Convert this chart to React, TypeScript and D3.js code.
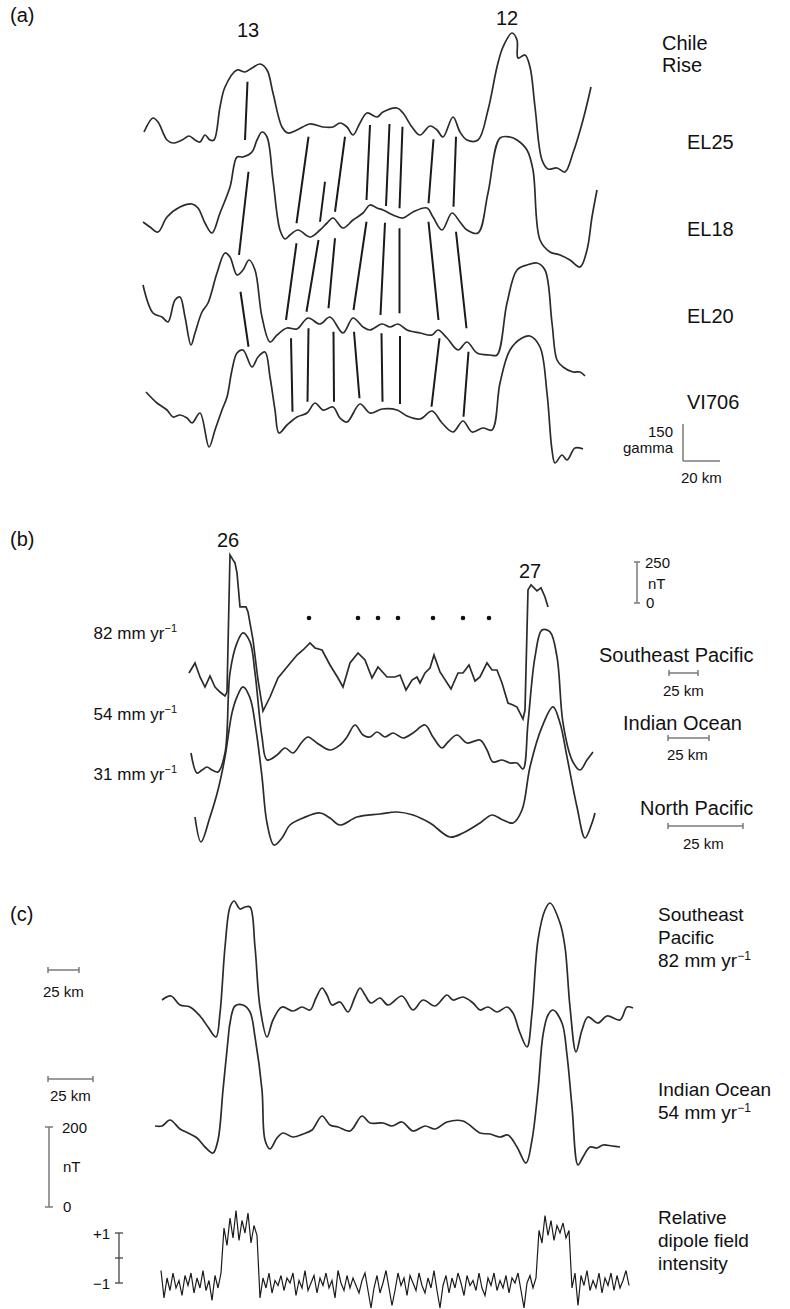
import React from 'react';
import * as d3 from 'd3';

type Pt = [number, number];

// distance along profile (normalised, 0-100) vs anomaly
// (a) Chile Rise, anomaly in gamma
const el25: Pt[] = [
  [0.8, -8], [2.6, 48], [3.6, 32], [5.4, -40], [6.6, -52], [8.4, -40], [9.8, -24], [11, -40], [12, -48], [13, -20],
  [14, -40], [14.8, -40], [16, 92], [17, 172], [19.4, 240], [21, 232], [22.4, 248], [24, 264], [25.4, 240], [26.6, 148],
  [28.4, 12], [29.6, -12], [31.4, 0], [34, 24], [36.6, 12], [38.6, 12], [40, 28], [41.4, 12], [42.6, -20], [44, 28],
  [45.4, 68], [47.4, 52], [48.6, 72], [51.4, 88], [52.6, 68], [54.4, 12], [56, -20], [58, 16], [59.4, 0], [60.6, -28],
  [62.6, 52], [64, -8], [65.4, -40], [67.6, -40], [69.6, 80], [71.4, 252], [72.6, 332], [74.4, 388], [75.4, 360], [75.6, 288],
  [77, 300], [78, 252], [79, 92], [80.4, -120], [81.6, -156], [83.4, -152], [85, -168], [86.6, -92], [88.6, 40], [90.2, 172],
];
const el18: Pt[] = [
  [0.6, 12], [2, -8], [3.6, -28], [5.4, 32], [8, 72], [10.4, 84], [11.6, 68], [13, 8], [14.4, -32], [16, 48],
  [18, 152], [19.4, 272], [20.6, 272], [22.4, 292], [23.4, 340], [24.4, 372], [25.4, 352], [26.6, 180], [28, -20], [29, -56],
  [30, -40], [31.6, -20], [34, -48], [36, -20], [37.4, 8], [38.6, 28], [40.6, -12], [42.6, 20], [44.6, 48], [46, 80],
  [47.4, 68], [48.6, 60], [50.6, 40], [52.6, 28], [54.6, 52], [57.4, 68], [58.6, 32], [60.4, -20], [62.4, 48], [64, 12],
  [65.4, -20], [67.6, -32], [69.6, 128], [72, 348], [74, 352], [75.4, 340], [77.4, 300], [78.6, 220], [80, -60], [82, -108],
  [84, -120], [86, -140], [88, -168], [89.4, -100], [90.4, 32], [91.4, 140],
];
const el20: Pt[] = [
  [0.6, 180], [2.6, 68], [4.4, 52], [5.6, 32], [7, 120], [8, 132], [9, 52], [10.2, -60], [11, -12], [12.4, 72],
  [13.6, 108], [15.4, 228], [17, 308], [18, 292], [19.4, 220], [20.6, 240], [21.8, 280], [23, 240], [24.4, 52], [26, -48],
  [27.4, -20], [29.4, 8], [31.4, 4], [33.6, 48], [36, 24], [38, 52], [40.6, -12], [42.6, 48], [44.6, 12], [46, 0],
  [48.4, 24], [50, 12], [51.6, 24], [53.4, 0], [56, -12], [58.4, -20], [59.6, 0], [61.4, -32], [63.6, -80], [65.4, -48],
  [67.4, -92], [70, -100], [71.4, -100], [73.4, 108], [75.4, 240], [77.4, 260], [79.4, 268], [81, 240], [82.4, 28], [83.4, -120],
  [84.6, -148], [86.6, -168], [88, -168], [89, -184],
];
const vi706: Pt[] = [
  [1.2, 92], [3.4, 48], [5.4, 20], [6.6, -8], [8, 0], [9.4, -12], [10.4, -32], [12, 8], [13.8, -128], [15, -60],
  [16.4, 20], [17.4, 72], [18.4, 180], [19.4, 248], [20.6, 260], [22.4, 192], [23.6, 232], [25, 252], [26, 152], [27, 20],
  [27.8, -72], [29.4, -40], [31.4, -8], [33.4, 8], [35, 48], [36.6, 20], [38.6, 32], [40, -12], [41.4, -28], [44, 44],
  [46, 8], [48.4, 24], [51.4, 20], [53.4, -4], [56, -16], [58.4, 16], [60.4, -32], [62.6, -68], [64.6, -24], [66.4, -68],
  [68.6, -52], [70.4, -60], [72, 128], [74, 260], [76.4, 308], [78, 316], [80, 272], [81.4, 88], [82.4, -140], [83, -192],
  [84.4, -160], [85.4, -180], [87, -132], [88.6, -136],
];

// correlation lines: [distance upper, anomaly upper, distance lower, anomaly lower]
const ties12 = [
  [21.5, 193, 21, 340], [33.7, -27, 31.3, 7], [37, -207, 36, 13], [41, -27, 39, 53], [46, 20, 45.3, 100],
  [49.9, 24, 49.2, 76], [52.5, 13, 51.9, 67], [58.7, -37, 57.7, 87], [63.2, -27, 62.7, 73],
];
const ties23 = [
  [21.7, 213, 19.8, 300], [31.3, -73, 29.2, 40], [35.7, -60, 33.3, 73], [39, -53, 37.7, 87], [45.3, 13, 42.7, 80],
  [49, 9, 48.1, 60], [51.9, -13, 51.9, 67], [57.7, 13, 59.7, 40], [63.2, -27, 65.3, 7],
];
const ties34 = [
  [20.1, 153, 21.7, 273], [30.2, -33, 30.5, 13], [33.7, 7, 33.5, 53], [38.7, -7, 38.8, 53], [42.8, -7, 43.9, 67],
  [48.3, -13, 48.5, 53], [52, -24, 52, 44], [59.9, -33, 58.3, 33], [65.7, -87, 64.7, -7],
];

// (b) anomalies 26-27, nT
const sePacificB: Pt[] = [
  [9.8, 42], [11, 102], [12, 18], [13, -42], [14, 24], [15, -42], [16, -72], [17, -96], [17.4, -72], [18, 750],
  [18.6, 720], [19, 702], [19.4, 642], [20, 438], [21.2, 438], [21.6, 408], [22.6, 240], [23.6, 0], [24.6, -186], [26, -102],
  [27.6, 12], [29.4, 78], [31.4, 150], [32.6, 180], [34, 222], [35, 192], [36.4, 180], [38, 90], [39.6, 12], [40.6, -42],
  [42, 102], [43.6, 162], [45, 120], [46.4, 12], [47.6, 78], [49.4, 18], [51, 18], [52, 30], [53.2, -60], [54.4, 0],
  [55.4, 18], [56, -18], [57, 42], [58, 72], [58.8, 150], [60, 48], [62.2, -54], [63.6, 42], [64.6, 42], [65.8, 90],
  [67, -6], [68, 18], [69.4, 102], [70.4, 60], [71.4, 60], [72.4, -18], [73.6, -138], [74.6, -150], [75.4, -162], [76.6, -234],
  [77, -180], [77.6, 540], [78.2, 570], [79.4, 534], [80.2, 552], [81, 498], [81.6, 438],
];
const indianB: Pt[] = [
  [10.2, -18], [11.4, -138], [12.4, -120], [13.4, -102], [14.4, -120], [15.6, -132], [17, -18], [18, 462], [19.4, 642], [20.6, 702],
  [22, 648], [23, 462], [24.4, 78], [25.4, -60], [27.4, -30], [29, 12], [30.6, -18], [32.4, 48], [33.6, 78], [35.4, 42],
  [38, 0], [40, 30], [41.4, 78], [43, 150], [44.6, 90], [46, 78], [47.4, 108], [49, 78], [50.6, 102], [52.6, 72],
  [54.6, 102], [57, 150], [58.6, 78], [60.4, 12], [61.6, 48], [63.4, 90], [65.4, 42], [68, 60], [69.4, 0], [70.6, -72],
  [72.4, -60], [74, -78], [75.4, -78], [76.6, -114], [77.6, 162], [79, 558], [80.4, 720], [82, 708], [83.4, 558], [84.6, 162],
  [86.4, -60], [88, -120], [89.4, -60], [90.6, -12],
];
const northPacificB: Pt[] = [
  [11, 18], [12.2, -132], [14, 18], [15.6, 180], [17, 378], [18.4, 642], [19.4, 738], [20.6, 798], [22, 732], [23.2, 540],
  [24.4, 258], [25.4, -18], [26.8, -150], [28.4, -108], [30, -30], [32.6, 12], [36, 42], [38, 12], [40, -30], [43.4, 18],
  [48, 36], [51.4, 48], [54.6, 30], [58, -18], [62, -102], [64.6, -78], [68, -18], [70.4, 30], [72.6, 0], [74.6, -18],
  [76.4, 60], [78, 318], [80.4, 558], [82.6, 678], [84, 582], [85.4, 378], [87.4, 78], [89, -108], [90.4, -18], [91, 42],
];
const dotsB = [33.8, 43.6, 47.6, 51.6, 58.6, 64.6, 69.8];

// (c) model anomalies, nT
const sePacificC: Pt[] = [
  [4.4, 12.5], [6.2, 22.5], [8, 0], [10, -5], [12, -27.5], [13.6, -55], [15.2, -80], [16, -20], [17, 145], [18, 245],
  [18.8, 260], [20, 240], [21, 245], [22, 245], [23, 145], [24, -5], [25.4, -80], [26.6, -37.5], [28.4, -5], [30.6, -15],
  [32.4, -5], [34, -12.5], [35.2, 17.5], [36.4, 42.5], [37.4, 25], [38.4, 0], [40, 7.5], [41.6, -17.5], [43, 20], [44, 42.5],
  [45, 25], [46.2, 5], [48, 17.5], [49.6, 0], [52.4, 22.5], [54.6, -12.5], [56.6, 12.5], [59, -2.5], [61.4, 25], [62.6, 12.5],
  [64.6, 20], [66.6, 5], [68, -12.5], [69.6, -5], [71.4, -17.5], [73.4, -5], [74.6, -20], [76, -70], [77.4, -105], [78.4, -20],
  [79.6, 162.5], [81, 237.5], [82, 255], [84, 205], [85, 145], [86, -5], [87.2, -117.5], [88.4, -62.5], [89.6, -30], [91.6, -45],
  [93.4, -27.5], [96, -37.5], [97.4, -5], [98.6, -7.5],
];
const indianC: Pt[] = [
  [3, 10], [4.4, 10], [6, 25], [8, 2.5], [9.6, -7.5], [11.4, -20], [13, -42.5], [14.6, -57.5], [15.6, -25], [16.6, 100],
  [17.6, 225], [18, 267.5], [19, 310], [20.6, 312.5], [22, 295], [23, 232.5], [24.4, 100], [25, -25], [26, -47.5], [27.4, -20],
  [28.6, -7.5], [30.6, -17.5], [32.6, -10], [34.4, 0], [36.4, 35], [38, 12.5], [39.6, 7.5], [42, -2.5], [44.4, 35], [46, 17.5],
  [48.6, 17.5], [50.4, 10], [52.4, 20], [54.6, -2.5], [57, 10], [59, 2.5], [61.4, 20], [64.6, 22.5], [68, -7.5], [70, -10],
  [72, -17.5], [73.6, -12.5], [75.4, -42.5], [77.2, -82.5], [78.4, -25], [79.6, 100], [80.6, 237.5], [81.6, 287.5], [82.6, 300], [84.4, 267.5],
  [85.4, 187.5], [86.4, 57.5], [87.6, -87.5], [88.6, -67.5], [90, -42.5], [91.4, -45], [92.6, -37.5], [94.4, -40], [96, -42.5],
];

// relative dipole field intensity, sampled every 0.6 units from 4.2
const dipoleStart = 4.2;
const dipoleStep = 0.6;
const dipole = [
  -0.5, -1.6, -0.8, -1.3, -0.6, -1.2, -0.9, -1.5, -0.7, -1.1,
  -0.6, -1.4, -0.8, -1.2, -0.5, -1.3, -0.9, -1.7, -0.7, -1.2,
  -0.6, 1.2, 0.5, 1.6, 0.8, 1.9, 0.7, 1.5, 1.0, 1.8,
  0.6, 1.3, 0.9, -1.6, -0.8, -1.2, -0.6, -1.4, -0.9, -1.1,
  -0.7, -1.3, -0.8, -1.0, -0.6, -1.5, -0.9, -1.2, -0.5, -1.3,
  -1.0, -0.7, -1.4, -0.8, -1.1, -0.6, -1.2, -0.9, -1.6, -0.5,
  -1.0, -1.3, -0.7, -1.2, -0.8, -1.1, -1.4, -0.9, -0.6, -1.3,
  -2.0, -1.2, -0.7, -1.4, -1.0, -0.5, -1.2, -1.9, -1.3, -0.6,
  -1.1, -0.8, -1.5, -0.7, -1.0, -1.3, -0.6, -1.1, -1.4, -0.8,
  -1.2, -0.5, -1.3, -2.0, -1.1, -0.7, -1.4, -0.8, -1.2, -0.6,
  -1.0, -1.5, -0.7, -1.1, -0.9, -1.3, -0.6, -1.2, -1.5, -0.8,
  -1.1, -0.6, -1.3, -0.9, -1.2, -0.7, -1.4, -0.8, -1.0, -0.6,
  -1.3, -2.0, -1.0, -0.7, -1.2, -0.8, 1.1, 0.6, 1.7, 0.9,
  1.5, 0.7, 1.3, 1.0, 1.4, 0.8, 1.1, -1.2, -0.6, -1.9,
  -0.7, -1.1, -0.5, -1.3, -0.9, -1.2, -0.6, -1.4, -0.8, -1.1,
  -0.6, -1.3, -0.7, -1.2, -0.9, -0.5, -1.1,
];

const FONT = '"Liberation Sans", Arial, Helvetica, sans-serif';
const INK = '#2b2b2b';
const GREY = '#7a7a7a';

const x = d3.scaleLinear().domain([0, 100]).range([140, 640]);
const gamma = d3.scaleLinear().domain([0, 150]).range([0, 37.5]);
const ntB = d3.scaleLinear().domain([0, 250]).range([0, 41.7]);
const ntC = d3.scaleLinear().domain([0, 200]).range([0, 80]);
const dip = d3.scaleLinear().domain([0, 1]).range([0, 25]);

const smooth = d3.curveCatmullRom.alpha(0.5);

function trace(data: Pt[], base: number, amp: d3.ScaleLinear<number, number>, curve: any = smooth) {
  return d3.line<Pt>().x(d => x(d[0])).y(d => base - amp(d[1])).curve(curve)(data) || '';
}

const Sup = ({ children, size }: { children: string; size: number }) => (
  <tspan fontSize={size} dy={-size * 0.6}>{children}</tspan>
);

function HBar({ x1, x2, y }: { x1: number; x2: number; y: number }) {
  return (
    <g stroke={GREY} strokeWidth={1.5}>
      <line x1={x1} x2={x2} y1={y} y2={y} />
      <line x1={x1} x2={x1} y1={y - 3} y2={y + 3} />
      <line x1={x2} x2={x2} y1={y - 3} y2={y + 3} />
    </g>
  );
}

export default function App() {
  const basesA = [130, 225, 330, 415];
  const profA = [el25, el18, el20, vi706];
  const ties = [ties12, ties23, ties34];

  return (
    <svg width={790} height={1309} style={{ position: 'absolute', left: 0, top: 0, background: '#fff' }} fontFamily={FONT}>
      {/* ---------- (a) ---------- */}
      <text x={10} y={22} fontSize={20} fill="#111">(a)</text>
      <text x={248} y={37} fontSize={20} textAnchor="middle" fill="#111">13</text>
      <text x={507} y={25} fontSize={20} textAnchor="middle" fill="#111">12</text>
      {profA.map((p, i) => (
        <path key={i} d={trace(p, basesA[i], gamma)} fill="none" stroke={INK} strokeWidth={1.7} />
      ))}
      {ties.map((set, i) =>
        set.map((t, j) => (
          <line key={`${i}-${j}`} x1={x(t[0])} y1={basesA[i] - gamma(t[1])} x2={x(t[2])} y2={basesA[i + 1] - gamma(t[3])}
            stroke="#1a1a1a" strokeWidth={2} />
        ))
      )}
      <g fontSize={20} fill="#111">
        <text x={662} y={50}>Chile</text>
        <text x={662} y={72}>Rise</text>
        <text x={687} y={149}>EL25</text>
        <text x={687} y={236}>EL18</text>
        <text x={687} y={323}>EL20</text>
        <text x={687} y={409}>VI706</text>
      </g>
      <g stroke={GREY} strokeWidth={1.5}>
        <line x1={683} x2={683} y1={424} y2={461} />
        <line x1={683} x2={720} y1={461} y2={461} />
      </g>
      <g fontSize={15} fill="#111">
        <text x={673} y={437} textAnchor="end">150</text>
        <text x={673} y={453} textAnchor="end">gamma</text>
        <text x={681} y={483}>20 km</text>
      </g>

      {/* ---------- (b) ---------- */}
      <text x={10} y={546} fontSize={20} fill="#111">(b)</text>
      <text x={228} y={547} fontSize={20} textAnchor="middle" fill="#111">26</text>
      <text x={530} y={578} fontSize={20} textAnchor="middle" fill="#111">27</text>
      <path d={trace(sePacificB, 680, ntB, d3.curveLinear)} fill="none" stroke={INK} strokeWidth={1.7} />
      <path d={trace(indianB, 750, ntB)} fill="none" stroke={INK} strokeWidth={1.7} />
      <path d={trace(northPacificB, 820, ntB)} fill="none" stroke={INK} strokeWidth={1.7} />
      {dotsB.map((d, i) => <circle key={i} cx={x(d)} cy={618} r={2.3} fill="#111" />)}
      <g fontSize={17} fill="#111" textAnchor="end">
        <text x={177} y={639}>82 mm yr<Sup size={11}>−1</Sup></text>
        <text x={177} y={720}>54 mm yr<Sup size={11}>−1</Sup></text>
        <text x={177} y={780}>31 mm yr<Sup size={11}>−1</Sup></text>
      </g>
      <g stroke={GREY} strokeWidth={1.5}>
        <line x1={637} x2={637} y1={562} y2={603} />
        <line x1={634} x2={640} y1={562} y2={562} />
        <line x1={634} x2={640} y1={603} y2={603} />
      </g>
      <g fontSize={15} fill="#111">
        <text x={645} y={568}>250</text>
        <text x={648} y={589}>nT</text>
        <text x={646} y={608}>0</text>
      </g>
      <g fontSize={20} fill="#111">
        <text x={599} y={662}>Southeast Pacific</text>
        <text x={623} y={730}>Indian Ocean</text>
        <text x={640} y={815}>North Pacific</text>
      </g>
      <HBar x1={669} x2={698} y={673} />
      <HBar x1={668} x2={709} y={738} />
      <HBar x1={668} x2={743} y={826} />
      <g fontSize={15} fill="#111">
        <text x={663} y={696}>25 km</text>
        <text x={667} y={760}>25 km</text>
        <text x={683} y={849}>25 km</text>
      </g>

      {/* ---------- (c) ---------- */}
      <text x={10} y={921} fontSize={20} fill="#111">(c)</text>
      <path d={trace(sePacificC, 1005, ntC)} fill="none" stroke={INK} strokeWidth={1.7} />
      <path d={trace(indianC, 1130, ntC)} fill="none" stroke={INK} strokeWidth={1.7} />
      <path
        d={d3.line<number>().x((_, i) => x(dipoleStart + i * dipoleStep)).y(v => 1258 - dip(v))(dipole) || ''}
        fill="none" stroke="#1a1a1a" strokeWidth={1.2} />
      <g fontSize={19} fill="#111">
        <text x={658} y={921}>Southeast</text>
        <text x={658} y={944}>Pacific</text>
        <text x={658} y={967}>82 mm yr<Sup size={12}>−1</Sup></text>
        <text x={658} y={1096}>Indian Ocean</text>
        <text x={658} y={1119}>54 mm yr<Sup size={12}>−1</Sup></text>
        <text x={658} y={1224}>Relative</text>
        <text x={658} y={1247}>dipole field</text>
        <text x={658} y={1270}>intensity</text>
      </g>
      <HBar x1={48} x2={79} y={970} />
      <HBar x1={48} x2={93} y={1079} />
      <g fontSize={15} fill="#111">
        <text x={43} y={997}>25 km</text>
        <text x={50} y={1101}>25 km</text>
        <text x={62} y={1133}>200</text>
        <text x={63} y={1172}>nT</text>
        <text x={63} y={1212}>0</text>
        <text x={110} y={1239} textAnchor="end">+1</text>
        <text x={110} y={1289} textAnchor="end">−1</text>
      </g>
      <g stroke={GREY} strokeWidth={1.5}>
        <line x1={49} x2={49} y1={1127} y2={1207} />
        <line x1={45} x2={53} y1={1127} y2={1127} />
        <line x1={45} x2={53} y1={1207} y2={1207} />
      </g>
      <g stroke="#444" strokeWidth={1.3}>
        <line x1={119} x2={119} y1={1258 - dip(1)} y2={1258 - dip(-1)} />
        <line x1={115} x2={123} y1={1258 - dip(1)} y2={1258 - dip(1)} />
        <line x1={115} x2={123} y1={1258} y2={1258} />
        <line x1={115} x2={123} y1={1258 - dip(-1)} y2={1258 - dip(-1)} />
      </g>
    </svg>
  );
}
